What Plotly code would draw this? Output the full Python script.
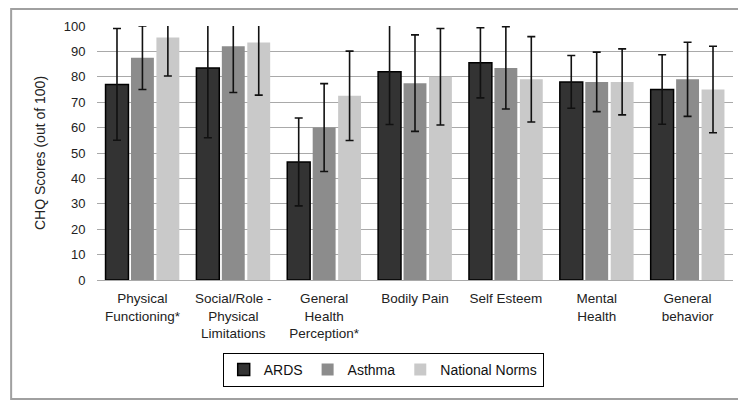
import plotly.graph_objects as go

categories = ["Physical<br>Functioning*", "Social/Role -<br>Physical<br>Limitations",
              "General<br>Health<br>Perception*", "Bodily Pain", "Self Esteem",
              "Mental<br>Health", "General<br>behavior"]

ards = [77, 83.5, 46.5, 82, 85.5, 78, 75]
ards_sd = [22, 27.5, 17.3, 20.8, 13.8, 10.4, 13.7]
asthma = [87.5, 92, 60, 77.5, 83.5, 78, 79]
asthma_sd = [12.5, 18.2, 17.3, 19, 16.2, 11.7, 14.6]
norms = [95.5, 93.5, 72.5, 80, 79, 78, 75]
norms_sd = [15.2, 20.7, 17.6, 19, 16.8, 13, 17]

y_ticks = list(range(0, 101, 10))

FONT = "Liberation Sans, Arial, sans-serif"

def eb(sd):
    return dict(type="data", array=sd, visible=True, color="#111111", thickness=1.6, width=4)

fig = go.Figure()
fig.add_trace(go.Bar(name="ARDS", x=categories, y=ards, error_y=eb(ards_sd),
                     marker=dict(color="#333333", line=dict(color="#000000", width=1.5))))
fig.add_trace(go.Bar(name="Asthma", x=categories, y=asthma, error_y=eb(asthma_sd),
                     marker=dict(color="#8c8c8c", line=dict(width=0))))
fig.add_trace(go.Bar(name="National Norms", x=categories, y=norms, error_y=eb(norms_sd),
                     marker=dict(color="#c9c9c9", line=dict(width=0))))

fig.update_layout(
    width=738, height=393,
    margin=dict(l=89, r=13, t=18, b=121),
    paper_bgcolor="white", plot_bgcolor="white",
    barmode="group", bargap=0.16, bargroupgap=0.1,
    font=dict(family=FONT, size=13, color="#222222"),
    showlegend=True,
    legend=dict(orientation="h", x=0.45, xanchor="center", y=-0.287, yanchor="top",
                bordercolor="#000000", borderwidth=1, font=dict(size=14, color="#111111"),
                itemwidth=30, tracegroupgap=0),
    xaxis=dict(showgrid=False, showline=False, ticks="outside", ticklen=6,
               tickcolor="rgba(0,0,0,0)", tickfont=dict(size=13.5), tickangle=0),
    yaxis=dict(range=[0, 100], tickvals=y_ticks, showgrid=True, gridcolor="#a9a9a9",
               gridwidth=1.3, zeroline=True, zerolinecolor="#a9a9a9", zerolinewidth=1.3,
               ticks="outside", ticklen=8, tickcolor="rgba(0,0,0,0)",
               tickfont=dict(size=13),
               title=dict(text="CHQ Scores (out of 100)", font=dict(size=14), standoff=14)),
    shapes=[dict(type="rect", xref="paper", yref="paper",
                 x0=-0.135, x1=1.03, y0=-0.4685, y1=1.067,
                 line=dict(color="#a0a0a0", width=2), fillcolor="rgba(0,0,0,0)", layer="below")],
)

fig.write_html("out.html")
